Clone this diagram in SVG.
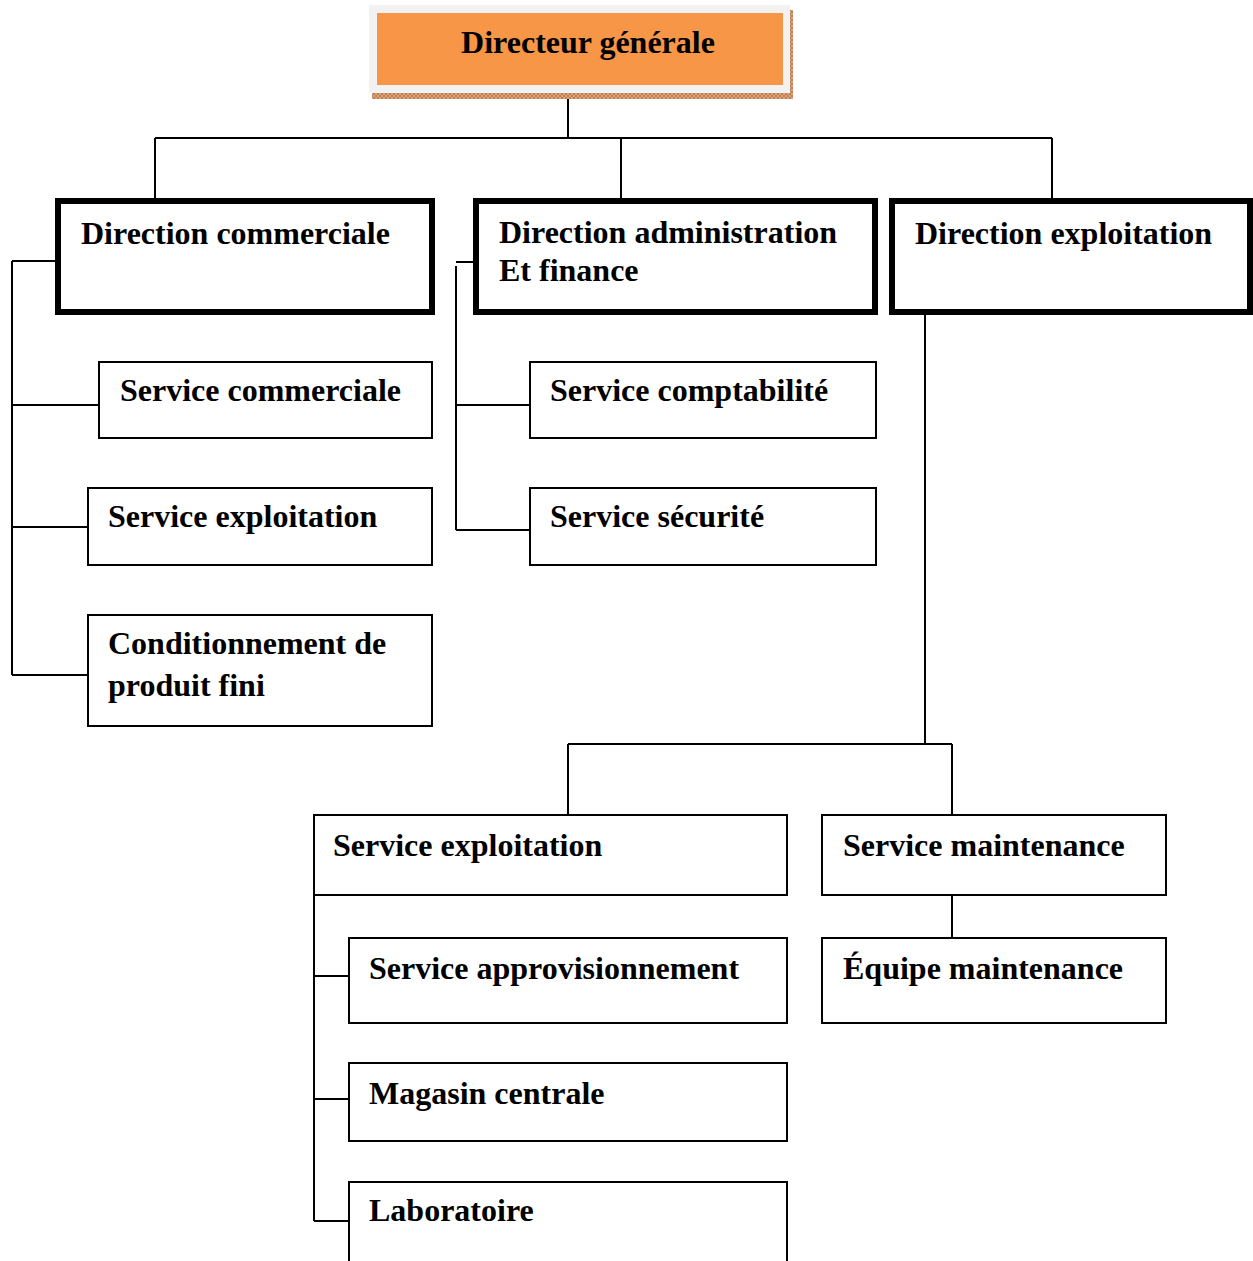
<svg xmlns="http://www.w3.org/2000/svg" width="1253" height="1261" viewBox="0 0 1253 1261">
<style>
text{font-family:"Liberation Serif","Times New Roman",serif;font-weight:bold;font-size:32px;fill:#000}
.thick{fill:#fff;stroke:#000;stroke-width:6}
.thin{fill:#fff;stroke:#000;stroke-width:2}
.con{fill:none;stroke:#000;stroke-width:2}
</style>
<defs>
<pattern id="hatch" width="4" height="4" patternUnits="userSpaceOnUse">
<rect width="4" height="4" fill="#d9a27a"/>
<path d="M0 0L4 4M4 0L0 4" stroke="#b9774a" stroke-width="0.8"/>
</pattern>
</defs>
<rect width="1253" height="1261" fill="#fff"/>
<g id="connectors">
<path class="con" d="M568 89V138M155 138H1052M155 138V200M621 138V200M1052 138V200"/>
<path class="con" d="M12 261H57M12 261V675M12 405H99M12 527H88M12 675H88"/>
<path class="con" d="M456 262H474M456 266V530M456 405H530M456 530H530"/>
<path class="con" d="M925 314V744M568 744H952M568 744V815M952 744V815M952 895V938"/>
<path class="con" d="M314 895V1221M314 976H349M314 1099H349M314 1221H349"/>
</g>
<g id="dg">
<rect x="372" y="10" width="421" height="89" fill="url(#hatch)"/>
<rect x="369" y="5" width="421" height="88" fill="#f2f2f2"/>
<rect x="377" y="13" width="406" height="72" fill="#f79646"/>
<text x="588" y="53" text-anchor="middle">Directeur générale</text>
</g>
<g id="dir-commerciale">
<rect class="thick" x="58" y="201" width="374" height="111"/>
<text x="81" y="244">Direction commerciale</text>
</g>
<g id="dir-admin">
<rect class="thick" x="476" y="201" width="399" height="111"/>
<text x="499" y="243">Direction administration</text>
<text x="499" y="281">Et finance</text>
</g>
<g id="dir-exploitation">
<rect class="thick" x="892" y="201" width="358" height="111"/>
<text x="915" y="244">Direction exploitation</text>
</g>
<g id="svc-commerciale">
<rect class="thin" x="99" y="362" width="333" height="76"/>
<text x="120" y="401">Service commerciale</text>
</g>
<g id="svc-exploitation-1">
<rect class="thin" x="88" y="488" width="344" height="77"/>
<text x="108" y="527">Service exploitation</text>
</g>
<g id="conditionnement">
<rect class="thin" x="88" y="615" width="344" height="111"/>
<text x="108" y="654">Conditionnement de</text>
<text x="108" y="696">produit fini</text>
</g>
<g id="svc-comptabilite">
<rect class="thin" x="530" y="362" width="346" height="76"/>
<text x="550" y="401">Service comptabilité</text>
</g>
<g id="svc-securite">
<rect class="thin" x="530" y="488" width="346" height="77"/>
<text x="550" y="527">Service sécurité</text>
</g>
<g id="svc-exploitation-2">
<rect class="thin" x="314" y="815" width="473" height="80"/>
<text x="333" y="856">Service exploitation</text>
</g>
<g id="svc-maintenance">
<rect class="thin" x="822" y="815" width="344" height="80"/>
<text x="843" y="856">Service maintenance</text>
</g>
<g id="equipe-maintenance">
<rect class="thin" x="822" y="938" width="344" height="85"/>
<text x="843" y="979">Équipe maintenance</text>
</g>
<g id="svc-appro">
<rect class="thin" x="349" y="938" width="438" height="85"/>
<text x="369" y="979">Service approvisionnement</text>
</g>
<g id="magasin">
<rect class="thin" x="349" y="1063" width="438" height="78"/>
<text x="369" y="1104">Magasin centrale</text>
</g>
<g id="laboratoire">
<path class="thin" d="M349 1262V1182H787V1262"/>
<text x="369" y="1221">Laboratoire</text>
</g>
</svg>
